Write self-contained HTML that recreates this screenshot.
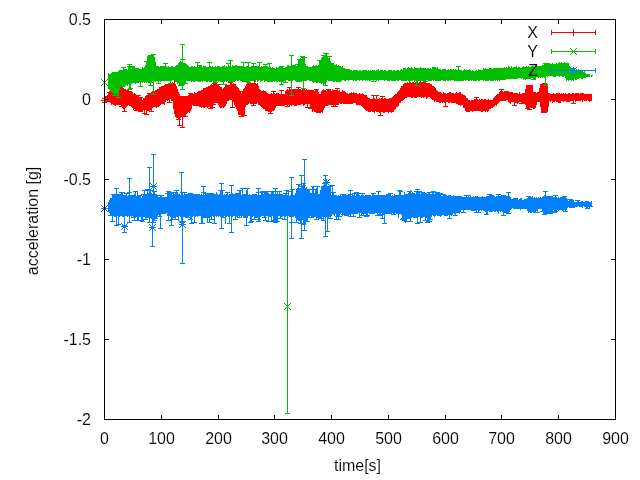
<!DOCTYPE html>
<html><head><meta charset="utf-8"><style>
html,body{margin:0;padding:0;background:#fff;width:640px;height:480px;overflow:hidden}
svg{position:absolute;left:0;top:0}
.tx{will-change:transform}
.t{font-family:"Liberation Sans",sans-serif;font-size:16px;fill:#000;stroke:#fff;stroke-width:0.12px;shape-rendering:auto}
</style></head><body>
<svg width="640" height="480" viewBox="0 0 640 480" shape-rendering="crispEdges">
<g><path fill="#ff0000" d="M105 96h1v6h-1zM106 96h1v6h-1zM107 95h1v7h-1zM108 93h1v9h-1zM109 92h1v10h-1zM109 92h1v1h-1zM107 92h5v1h-5zM110 92h1v11h-1zM111 91h1v14h-1zM111 91h1v1h-1zM109 91h5v1h-5zM112 91h1v13h-1zM113 92h1v13h-1zM114 92h1v13h-1zM115 92h1v14h-1zM116 91h1v14h-1zM116 91h1v1h-1zM114 91h5v1h-5zM117 92h1v13h-1zM118 88h1v17h-1zM119 88h1v17h-1zM119 87h1v2h-1zM117 87h5v1h-5zM120 87h1v18h-1zM121 88h1v19h-1zM121 106h1v1h-1zM119 106h5v1h-5zM122 87h1v21h-1zM123 88h1v21h-1zM124 89h1v19h-1zM124 107h1v5h-1zM122 111h5v1h-5zM125 89h1v19h-1zM126 91h1v16h-1zM126 90h1v2h-1zM124 90h5v1h-5zM127 90h1v16h-1zM128 90h1v15h-1zM129 91h1v15h-1zM130 91h1v15h-1zM131 91h1v16h-1zM132 92h1v16h-1zM133 94h1v16h-1zM134 93h1v16h-1zM135 94h1v16h-1zM136 95h1v15h-1zM136 109h1v2h-1zM134 110h5v1h-5zM137 96h1v14h-1zM137 109h1v2h-1zM135 110h5v1h-5zM138 97h1v13h-1zM138 95h1v3h-1zM136 95h5v1h-5zM139 97h1v13h-1zM140 99h1v11h-1zM141 98h1v13h-1zM142 100h1v11h-1zM143 98h1v12h-1zM143 109h1v1h-1zM141 109h5v1h-5zM144 98h1v12h-1zM144 109h1v5h-1zM142 113h5v1h-5zM145 96h1v14h-1zM146 95h1v17h-1zM146 111h1v4h-1zM144 114h5v1h-5zM147 95h1v16h-1zM148 94h1v17h-1zM149 93h1v18h-1zM149 93h1v1h-1zM147 93h5v1h-5zM150 93h1v17h-1zM151 92h1v16h-1zM151 107h1v5h-1zM149 111h5v1h-5zM152 91h1v17h-1zM153 92h1v15h-1zM154 91h1v16h-1zM155 90h1v17h-1zM156 90h1v18h-1zM157 89h1v18h-1zM158 89h1v18h-1zM159 87h1v19h-1zM160 87h1v18h-1zM161 86h1v18h-1zM162 86h1v18h-1zM163 86h1v18h-1zM163 86h1v1h-1zM161 86h5v1h-5zM164 85h1v20h-1zM165 85h1v17h-1zM166 84h1v16h-1zM167 84h1v17h-1zM167 84h1v1h-1zM165 84h5v1h-5zM168 84h1v16h-1zM169 83h1v17h-1zM169 99h1v4h-1zM167 102h5v1h-5zM170 83h1v16h-1zM171 83h1v18h-1zM172 82h1v19h-1zM173 83h1v26h-1zM174 83h1v31h-1zM174 79h1v5h-1zM172 79h5v1h-5zM175 84h1v33h-1zM176 86h1v32h-1zM177 89h1v29h-1zM178 92h1v27h-1zM179 94h1v25h-1zM180 96h1v22h-1zM181 96h1v21h-1zM181 116h1v1h-1zM179 116h5v1h-5zM182 96h1v22h-1zM183 96h1v21h-1zM184 97h1v19h-1zM185 96h1v17h-1zM186 97h1v17h-1zM187 96h1v17h-1zM188 95h1v17h-1zM189 93h1v20h-1zM190 93h1v18h-1zM190 93h1v1h-1zM188 93h5v1h-5zM191 93h1v16h-1zM192 93h1v12h-1zM193 94h1v12h-1zM194 92h1v13h-1zM195 93h1v12h-1zM196 93h1v12h-1zM196 104h1v2h-1zM194 105h5v1h-5zM197 92h1v13h-1zM198 91h1v15h-1zM199 91h1v16h-1zM200 91h1v16h-1zM201 90h1v18h-1zM202 90h1v17h-1zM203 89h1v19h-1zM204 89h1v19h-1zM205 89h1v18h-1zM205 88h1v2h-1zM203 88h5v1h-5zM206 87h1v20h-1zM207 87h1v21h-1zM208 87h1v20h-1zM209 86h1v21h-1zM210 85h1v23h-1zM211 84h1v23h-1zM212 85h1v22h-1zM212 106h1v2h-1zM210 107h5v1h-5zM213 84h1v21h-1zM213 104h1v1h-1zM211 104h5v1h-5zM214 83h1v20h-1zM214 83h1v1h-1zM212 83h5v1h-5zM215 83h1v20h-1zM216 83h1v20h-1zM217 84h1v19h-1zM218 84h1v21h-1zM218 84h1v1h-1zM216 84h5v1h-5zM219 86h1v21h-1zM220 87h1v21h-1zM221 87h1v21h-1zM222 89h1v18h-1zM223 88h1v20h-1zM224 87h1v20h-1zM225 85h1v21h-1zM226 84h1v20h-1zM227 85h1v16h-1zM228 85h1v16h-1zM229 85h1v15h-1zM230 83h1v17h-1zM230 82h1v2h-1zM228 82h5v1h-5zM231 83h1v17h-1zM232 84h1v16h-1zM233 83h1v19h-1zM234 84h1v21h-1zM235 84h1v23h-1zM236 86h1v23h-1zM237 87h1v24h-1zM238 88h1v27h-1zM239 90h1v25h-1zM240 93h1v22h-1zM240 91h1v3h-1zM238 91h5v1h-5zM241 93h1v23h-1zM241 115h1v2h-1zM239 116h5v1h-5zM242 91h1v24h-1zM243 89h1v27h-1zM244 88h1v24h-1zM244 111h1v5h-1zM242 115h5v1h-5zM245 86h1v21h-1zM246 84h1v21h-1zM247 83h1v22h-1zM248 83h1v21h-1zM249 82h1v21h-1zM250 83h1v21h-1zM251 83h1v21h-1zM252 83h1v21h-1zM253 83h1v21h-1zM253 103h1v3h-1zM251 105h5v1h-5zM254 83h1v21h-1zM254 79h1v5h-1zM252 79h5v1h-5zM255 83h1v21h-1zM256 84h1v20h-1zM257 83h1v20h-1zM258 86h1v19h-1zM259 89h1v16h-1zM260 90h1v16h-1zM261 91h1v16h-1zM262 91h1v17h-1zM263 90h1v19h-1zM264 91h1v18h-1zM265 91h1v20h-1zM266 92h1v19h-1zM267 93h1v18h-1zM268 94h1v18h-1zM269 94h1v18h-1zM270 94h1v18h-1zM270 111h1v3h-1zM268 113h5v1h-5zM271 93h1v19h-1zM272 94h1v17h-1zM273 94h1v17h-1zM273 91h1v4h-1zM271 91h5v1h-5zM274 93h1v17h-1zM275 94h1v14h-1zM276 93h1v13h-1zM276 105h1v1h-1zM274 105h5v1h-5zM277 93h1v12h-1zM277 104h1v2h-1zM275 105h5v1h-5zM278 93h1v13h-1zM279 94h1v12h-1zM280 94h1v12h-1zM281 94h1v12h-1zM281 90h1v5h-1zM279 90h5v1h-5zM282 94h1v12h-1zM283 94h1v12h-1zM284 94h1v12h-1zM285 91h1v14h-1zM286 90h1v15h-1zM287 89h1v16h-1zM287 104h1v3h-1zM285 106h5v1h-5zM288 90h1v15h-1zM289 90h1v16h-1zM289 87h1v4h-1zM287 87h5v1h-5zM290 89h1v16h-1zM291 89h1v17h-1zM292 89h1v16h-1zM293 89h1v16h-1zM294 89h1v17h-1zM295 89h1v17h-1zM296 89h1v17h-1zM297 89h1v16h-1zM298 90h1v15h-1zM298 87h1v4h-1zM296 87h5v1h-5zM299 89h1v16h-1zM300 89h1v16h-1zM301 90h1v14h-1zM302 89h1v15h-1zM303 89h1v17h-1zM304 89h1v16h-1zM305 90h1v14h-1zM306 89h1v15h-1zM307 90h1v15h-1zM307 104h1v4h-1zM305 107h5v1h-5zM308 90h1v14h-1zM309 90h1v14h-1zM310 90h1v16h-1zM310 105h1v4h-1zM308 108h5v1h-5zM311 90h1v19h-1zM312 90h1v22h-1zM313 90h1v21h-1zM314 91h1v21h-1zM315 90h1v22h-1zM316 90h1v22h-1zM316 89h1v2h-1zM314 89h5v1h-5zM317 90h1v22h-1zM318 92h1v20h-1zM318 111h1v2h-1zM316 112h5v1h-5zM319 94h1v18h-1zM320 94h1v18h-1zM321 91h1v21h-1zM322 90h1v23h-1zM323 89h1v21h-1zM324 90h1v18h-1zM325 90h1v16h-1zM326 91h1v15h-1zM327 90h1v16h-1zM328 90h1v15h-1zM328 89h1v2h-1zM326 89h5v1h-5zM329 90h1v15h-1zM330 90h1v15h-1zM331 91h1v14h-1zM332 89h1v16h-1zM333 90h1v15h-1zM333 104h1v3h-1zM331 106h5v1h-5zM334 90h1v15h-1zM335 90h1v15h-1zM335 104h1v3h-1zM333 106h5v1h-5zM336 90h1v15h-1zM337 90h1v15h-1zM337 88h1v3h-1zM335 88h5v1h-5zM338 91h1v14h-1zM339 90h1v13h-1zM340 92h1v12h-1zM341 92h1v12h-1zM342 90h1v13h-1zM343 91h1v13h-1zM344 91h1v13h-1zM345 92h1v12h-1zM346 93h1v11h-1zM347 93h1v11h-1zM348 94h1v10h-1zM349 93h1v11h-1zM350 93h1v11h-1zM351 92h1v12h-1zM352 93h1v11h-1zM353 92h1v11h-1zM354 93h1v10h-1zM355 93h1v10h-1zM356 93h1v11h-1zM357 94h1v10h-1zM358 94h1v10h-1zM358 103h1v2h-1zM356 104h5v1h-5zM359 93h1v11h-1zM359 103h1v2h-1zM357 104h5v1h-5zM360 94h1v10h-1zM361 94h1v12h-1zM362 93h1v14h-1zM363 94h1v14h-1zM364 95h1v14h-1zM365 95h1v15h-1zM366 95h1v16h-1zM367 97h1v14h-1zM368 98h1v14h-1zM369 98h1v14h-1zM370 99h1v13h-1zM371 99h1v12h-1zM372 99h1v13h-1zM373 99h1v13h-1zM373 95h1v5h-1zM371 95h5v1h-5zM374 98h1v15h-1zM375 99h1v12h-1zM376 99h1v13h-1zM376 95h1v5h-1zM374 95h5v1h-5zM377 99h1v13h-1zM378 99h1v13h-1zM379 98h1v15h-1zM380 99h1v14h-1zM380 112h1v4h-1zM378 115h5v1h-5zM381 98h1v14h-1zM382 98h1v14h-1zM382 96h1v3h-1zM380 96h5v1h-5zM383 99h1v14h-1zM384 98h1v15h-1zM385 98h1v14h-1zM386 99h1v13h-1zM387 99h1v13h-1zM388 99h1v14h-1zM389 98h1v14h-1zM390 98h1v14h-1zM391 98h1v15h-1zM392 97h1v15h-1zM393 96h1v16h-1zM394 95h1v15h-1zM395 94h1v15h-1zM396 94h1v13h-1zM397 92h1v15h-1zM398 91h1v15h-1zM399 90h1v13h-1zM400 88h1v15h-1zM401 86h1v15h-1zM402 86h1v15h-1zM403 84h1v16h-1zM404 83h1v16h-1zM405 83h1v15h-1zM406 83h1v15h-1zM407 82h1v15h-1zM408 83h1v14h-1zM409 82h1v15h-1zM410 82h1v15h-1zM411 83h1v15h-1zM412 82h1v16h-1zM413 82h1v15h-1zM414 83h1v15h-1zM415 82h1v16h-1zM416 83h1v15h-1zM417 82h1v15h-1zM418 83h1v14h-1zM419 82h1v15h-1zM420 81h1v16h-1zM421 82h1v16h-1zM422 82h1v15h-1zM423 82h1v16h-1zM424 82h1v15h-1zM425 81h1v16h-1zM426 83h1v16h-1zM427 83h1v15h-1zM428 83h1v14h-1zM429 83h1v14h-1zM430 84h1v14h-1zM431 84h1v15h-1zM432 86h1v14h-1zM433 86h1v14h-1zM434 87h1v15h-1zM435 88h1v13h-1zM436 90h1v12h-1zM437 91h1v11h-1zM438 92h1v10h-1zM439 92h1v11h-1zM440 92h1v11h-1zM441 93h1v9h-1zM442 94h1v9h-1zM443 92h1v10h-1zM444 93h1v10h-1zM445 93h1v10h-1zM445 102h1v5h-1zM443 106h5v1h-5zM446 94h1v8h-1zM447 93h1v9h-1zM448 93h1v10h-1zM449 92h1v11h-1zM450 92h1v10h-1zM451 93h1v10h-1zM452 93h1v10h-1zM453 93h1v10h-1zM454 94h1v9h-1zM455 93h1v10h-1zM456 92h1v12h-1zM457 93h1v11h-1zM458 93h1v12h-1zM459 92h1v13h-1zM460 92h1v14h-1zM461 94h1v11h-1zM462 94h1v11h-1zM463 95h1v13h-1zM464 95h1v13h-1zM465 96h1v15h-1zM466 98h1v14h-1zM467 98h1v14h-1zM468 100h1v12h-1zM469 100h1v12h-1zM470 101h1v10h-1zM471 100h1v11h-1zM472 100h1v12h-1zM473 100h1v11h-1zM474 99h1v12h-1zM475 99h1v12h-1zM476 99h1v12h-1zM476 97h1v3h-1zM474 97h5v1h-5zM477 99h1v12h-1zM478 100h1v11h-1zM479 99h1v12h-1zM480 100h1v11h-1zM481 99h1v13h-1zM482 99h1v13h-1zM483 100h1v11h-1zM484 99h1v12h-1zM485 99h1v13h-1zM486 100h1v11h-1zM487 100h1v12h-1zM488 99h1v12h-1zM489 100h1v9h-1zM490 100h1v9h-1zM491 100h1v8h-1zM492 100h1v8h-1zM493 98h1v9h-1zM494 97h1v9h-1zM495 96h1v9h-1zM496 95h1v11h-1zM497 94h1v10h-1zM498 94h1v9h-1zM499 92h1v10h-1zM500 91h1v10h-1zM501 92h1v9h-1zM501 89h1v4h-1zM499 89h5v1h-5zM502 91h1v10h-1zM503 92h1v9h-1zM504 91h1v10h-1zM505 91h1v10h-1zM506 91h1v9h-1zM507 91h1v9h-1zM508 91h1v11h-1zM509 92h1v11h-1zM510 92h1v12h-1zM511 92h1v10h-1zM512 92h1v10h-1zM513 93h1v9h-1zM514 93h1v10h-1zM514 102h1v4h-1zM512 105h5v1h-5zM515 93h1v10h-1zM516 93h1v10h-1zM517 93h1v11h-1zM518 94h1v9h-1zM519 92h1v10h-1zM520 94h1v8h-1zM521 94h1v9h-1zM521 102h1v2h-1zM519 103h5v1h-5zM522 93h1v10h-1zM523 93h1v11h-1zM524 93h1v11h-1zM525 89h1v16h-1zM526 85h1v23h-1zM527 85h1v24h-1zM527 108h1v1h-1zM525 108h5v1h-5zM528 86h1v23h-1zM529 85h1v23h-1zM530 86h1v22h-1zM531 86h1v22h-1zM532 85h1v23h-1zM533 92h1v17h-1zM534 92h1v17h-1zM535 92h1v16h-1zM536 93h1v12h-1zM537 92h1v10h-1zM538 92h1v10h-1zM539 88h1v14h-1zM540 84h1v23h-1zM541 84h1v29h-1zM542 84h1v28h-1zM543 83h1v29h-1zM544 84h1v29h-1zM545 83h1v30h-1zM546 84h1v28h-1zM547 84h1v28h-1zM548 93h1v14h-1zM549 93h1v8h-1zM550 94h1v8h-1zM551 94h1v7h-1zM552 94h1v9h-1zM553 93h1v9h-1zM554 94h1v8h-1zM555 94h1v7h-1zM556 93h1v9h-1zM557 93h1v9h-1zM558 93h1v10h-1zM559 93h1v10h-1zM560 94h1v9h-1zM561 93h1v8h-1zM562 94h1v7h-1zM563 93h1v9h-1zM564 94h1v7h-1zM565 93h1v8h-1zM566 94h1v8h-1zM567 94h1v8h-1zM568 93h1v9h-1zM569 93h1v9h-1zM570 94h1v7h-1zM571 94h1v7h-1zM572 93h1v8h-1zM573 93h1v8h-1zM573 100h1v4h-1zM571 103h5v1h-5zM574 94h1v6h-1zM575 93h1v9h-1zM576 93h1v8h-1zM577 93h1v8h-1zM578 93h1v8h-1zM579 94h1v7h-1zM580 93h1v8h-1zM581 93h1v7h-1zM582 93h1v9h-1zM583 93h1v7h-1zM584 94h1v7h-1zM585 94h1v7h-1zM586 94h1v7h-1zM587 94h1v6h-1zM588 94h1v7h-1zM589 94h1v8h-1zM590 94h1v7h-1zM591 94h1v7h-1z"/>
<path fill="#ff0000" d="M178 96h1v24h-1zM176 96h5v1h-5zM176 119h5v1h-5zM179 96h1v30h-1zM177 96h5v1h-5zM177 125h5v1h-5zM182 96h1v32h-1zM180 96h5v1h-5zM180 127h5v1h-5zM185 96h1v21h-1zM183 96h5v1h-5zM183 116h5v1h-5zM544 83h1v30h-1zM542 83h5v1h-5zM542 112h5v1h-5zM529 85h1v25h-1zM527 85h5v1h-5zM527 109h5v1h-5zM232 84h1v24h-1zM230 84h5v1h-5zM230 107h5v1h-5zM210 86h1v23h-1zM208 86h5v1h-5zM208 108h5v1h-5zM140 97h1v15h-1zM138 97h5v1h-5zM138 111h5v1h-5zM104 98h1v5h-1zM102 98h5v1h-5zM102 102h5v1h-5zM101 100h7v1h-7zM104 97h1v7h-1z"/>
<path fill="#00c000" d="M108 73h1v16h-1zM109 74h1v16h-1zM110 74h1v17h-1zM111 73h1v19h-1zM112 73h1v20h-1zM113 72h1v22h-1zM114 73h1v21h-1zM115 73h1v22h-1zM115 94h1v2h-1zM113 95h5v1h-5zM116 73h1v21h-1zM117 72h1v23h-1zM118 71h1v24h-1zM118 94h1v4h-1zM116 97h5v1h-5zM119 70h1v20h-1zM120 70h1v17h-1zM121 70h1v17h-1zM122 70h1v18h-1zM123 69h1v18h-1zM123 67h1v3h-1zM121 67h5v1h-5zM124 69h1v18h-1zM125 69h1v17h-1zM126 69h1v16h-1zM127 70h1v16h-1zM128 68h1v16h-1zM129 68h1v16h-1zM129 66h1v3h-1zM127 66h5v1h-5zM130 69h1v16h-1zM130 67h1v3h-1zM128 67h5v1h-5zM130 84h1v5h-1zM128 88h5v1h-5zM131 69h1v15h-1zM132 68h1v15h-1zM132 66h1v3h-1zM130 66h5v1h-5zM133 67h1v16h-1zM134 67h1v16h-1zM135 68h1v16h-1zM136 68h1v15h-1zM137 68h1v15h-1zM138 68h1v15h-1zM139 69h1v13h-1zM140 69h1v14h-1zM140 82h1v5h-1zM138 86h5v1h-5zM141 69h1v13h-1zM142 67h1v16h-1zM143 68h1v14h-1zM144 67h1v16h-1zM145 65h1v17h-1zM146 62h1v21h-1zM146 61h1v2h-1zM144 61h5v1h-5zM147 56h1v26h-1zM148 56h1v26h-1zM149 56h1v27h-1zM150 57h1v26h-1zM150 82h1v4h-1zM148 85h5v1h-5zM151 56h1v27h-1zM152 56h1v25h-1zM153 57h1v24h-1zM154 57h1v24h-1zM155 62h1v20h-1zM156 66h1v15h-1zM157 66h1v15h-1zM158 66h1v16h-1zM158 81h1v3h-1zM156 83h5v1h-5zM159 67h1v14h-1zM160 66h1v16h-1zM161 66h1v15h-1zM162 66h1v15h-1zM163 66h1v15h-1zM164 66h1v15h-1zM165 67h1v14h-1zM165 63h1v5h-1zM163 63h5v1h-5zM166 66h1v15h-1zM167 67h1v14h-1zM168 66h1v15h-1zM169 67h1v14h-1zM170 67h1v14h-1zM170 80h1v4h-1zM168 83h5v1h-5zM171 66h1v15h-1zM172 66h1v14h-1zM173 67h1v13h-1zM174 67h1v13h-1zM175 66h1v16h-1zM176 65h1v17h-1zM177 65h1v19h-1zM178 63h1v20h-1zM179 62h1v23h-1zM180 61h1v23h-1zM180 83h1v3h-1zM178 85h5v1h-5zM181 62h1v24h-1zM182 62h1v24h-1zM182 59h1v4h-1zM180 59h5v1h-5zM183 63h1v23h-1zM184 63h1v22h-1zM185 63h1v20h-1zM185 82h1v2h-1zM183 83h5v1h-5zM186 64h1v17h-1zM187 65h1v16h-1zM188 66h1v15h-1zM189 67h1v14h-1zM190 67h1v14h-1zM191 66h1v16h-1zM192 66h1v15h-1zM193 67h1v15h-1zM194 66h1v16h-1zM195 67h1v14h-1zM196 67h1v14h-1zM197 66h1v15h-1zM197 62h1v5h-1zM195 62h5v1h-5zM198 67h1v15h-1zM199 67h1v15h-1zM199 65h1v3h-1zM197 65h5v1h-5zM200 66h1v16h-1zM201 66h1v15h-1zM202 67h1v15h-1zM203 66h1v15h-1zM204 66h1v15h-1zM205 66h1v15h-1zM206 67h1v15h-1zM207 67h1v15h-1zM208 67h1v14h-1zM209 66h1v16h-1zM209 62h1v5h-1zM207 62h5v1h-5zM210 66h1v16h-1zM211 67h1v15h-1zM212 66h1v15h-1zM213 67h1v15h-1zM214 67h1v15h-1zM215 66h1v15h-1zM215 80h1v3h-1zM213 82h5v1h-5zM216 67h1v15h-1zM217 66h1v15h-1zM218 66h1v16h-1zM219 66h1v15h-1zM220 67h1v15h-1zM221 67h1v15h-1zM222 66h1v16h-1zM223 66h1v15h-1zM223 80h1v5h-1zM221 84h5v1h-5zM224 65h1v17h-1zM225 67h1v14h-1zM226 66h1v16h-1zM227 67h1v14h-1zM228 66h1v16h-1zM228 63h1v4h-1zM226 63h5v1h-5zM229 66h1v16h-1zM230 67h1v15h-1zM231 67h1v14h-1zM232 65h1v16h-1zM233 66h1v16h-1zM234 66h1v16h-1zM235 65h1v16h-1zM236 65h1v15h-1zM237 66h1v15h-1zM238 67h1v14h-1zM239 66h1v14h-1zM240 66h1v15h-1zM240 66h1v1h-1zM238 66h5v1h-5zM241 67h1v14h-1zM242 67h1v15h-1zM243 66h1v15h-1zM243 62h1v5h-1zM241 62h5v1h-5zM244 67h1v15h-1zM244 81h1v1h-1zM242 81h5v1h-5zM245 67h1v14h-1zM246 66h1v15h-1zM247 66h1v16h-1zM248 67h1v14h-1zM249 67h1v15h-1zM250 67h1v14h-1zM251 66h1v15h-1zM252 66h1v15h-1zM253 66h1v15h-1zM253 63h1v4h-1zM251 63h5v1h-5zM254 66h1v14h-1zM255 66h1v16h-1zM256 66h1v14h-1zM257 66h1v16h-1zM258 66h1v15h-1zM259 66h1v14h-1zM259 62h1v5h-1zM257 62h5v1h-5zM260 67h1v15h-1zM261 66h1v15h-1zM262 67h1v14h-1zM263 66h1v14h-1zM264 66h1v16h-1zM265 66h1v15h-1zM265 64h1v3h-1zM263 64h5v1h-5zM266 66h1v15h-1zM267 66h1v15h-1zM268 67h1v14h-1zM269 68h1v13h-1zM269 80h1v1h-1zM267 80h5v1h-5zM270 67h1v14h-1zM270 80h1v1h-1zM268 80h5v1h-5zM271 68h1v13h-1zM272 67h1v15h-1zM273 68h1v13h-1zM274 68h1v14h-1zM275 69h1v12h-1zM276 67h1v15h-1zM277 68h1v14h-1zM278 67h1v14h-1zM279 68h1v14h-1zM280 67h1v15h-1zM280 67h1v1h-1zM278 67h5v1h-5zM281 68h1v15h-1zM281 66h1v3h-1zM279 66h5v1h-5zM281 82h1v3h-1zM279 84h5v1h-5zM282 68h1v14h-1zM283 68h1v14h-1zM284 68h1v13h-1zM285 67h1v15h-1zM285 81h1v2h-1zM283 82h5v1h-5zM286 67h1v13h-1zM287 65h1v15h-1zM288 65h1v16h-1zM289 66h1v15h-1zM290 66h1v15h-1zM291 66h1v15h-1zM292 66h1v15h-1zM293 65h1v15h-1zM293 65h1v1h-1zM291 65h5v1h-5zM294 66h1v14h-1zM295 66h1v15h-1zM296 66h1v15h-1zM297 65h1v16h-1zM297 64h1v2h-1zM295 64h5v1h-5zM298 60h1v20h-1zM298 79h1v3h-1zM296 81h5v1h-5zM299 59h1v22h-1zM299 59h1v1h-1zM297 59h5v1h-5zM299 80h1v2h-1zM297 81h5v1h-5zM300 58h1v23h-1zM301 59h1v22h-1zM302 57h1v24h-1zM302 56h1v2h-1zM300 56h5v1h-5zM303 58h1v22h-1zM304 58h1v23h-1zM304 57h1v2h-1zM302 57h5v1h-5zM305 64h1v17h-1zM306 66h1v15h-1zM307 66h1v14h-1zM308 67h1v13h-1zM309 68h1v13h-1zM310 67h1v14h-1zM311 67h1v14h-1zM311 67h1v1h-1zM309 67h5v1h-5zM312 66h1v16h-1zM313 65h1v18h-1zM314 66h1v16h-1zM315 66h1v16h-1zM316 65h1v18h-1zM317 66h1v17h-1zM318 65h1v17h-1zM319 64h1v19h-1zM319 60h1v5h-1zM317 60h5v1h-5zM320 61h1v22h-1zM321 58h1v26h-1zM322 57h1v26h-1zM323 56h1v29h-1zM323 55h1v2h-1zM321 55h5v1h-5zM324 56h1v28h-1zM325 56h1v28h-1zM325 83h1v3h-1zM323 85h5v1h-5zM326 56h1v26h-1zM326 53h1v4h-1zM324 53h5v1h-5zM327 57h1v23h-1zM328 58h1v23h-1zM329 60h1v21h-1zM329 56h1v5h-1zM327 56h5v1h-5zM330 61h1v20h-1zM331 63h1v18h-1zM332 63h1v18h-1zM333 63h1v19h-1zM334 65h1v17h-1zM335 65h1v16h-1zM336 64h1v17h-1zM337 66h1v15h-1zM338 65h1v17h-1zM338 81h1v1h-1zM336 81h5v1h-5zM339 66h1v16h-1zM340 66h1v16h-1zM341 67h1v14h-1zM342 66h1v14h-1zM343 68h1v12h-1zM344 68h1v13h-1zM345 69h1v12h-1zM346 69h1v11h-1zM347 69h1v11h-1zM347 69h1v1h-1zM345 69h5v1h-5zM348 70h1v11h-1zM349 69h1v11h-1zM350 70h1v10h-1zM351 70h1v10h-1zM352 71h1v9h-1zM353 70h1v11h-1zM354 70h1v10h-1zM355 70h1v11h-1zM356 70h1v11h-1zM357 70h1v10h-1zM358 71h1v9h-1zM359 70h1v11h-1zM360 70h1v10h-1zM361 71h1v9h-1zM362 70h1v11h-1zM363 70h1v10h-1zM364 70h1v10h-1zM365 70h1v11h-1zM366 70h1v10h-1zM367 71h1v10h-1zM368 70h1v10h-1zM369 71h1v10h-1zM370 70h1v11h-1zM371 71h1v9h-1zM372 70h1v10h-1zM373 70h1v11h-1zM373 80h1v2h-1zM371 81h5v1h-5zM374 70h1v10h-1zM375 71h1v9h-1zM376 70h1v11h-1zM377 70h1v10h-1zM378 69h1v12h-1zM379 71h1v9h-1zM380 70h1v10h-1zM381 70h1v10h-1zM382 70h1v10h-1zM383 71h1v9h-1zM384 70h1v11h-1zM385 70h1v10h-1zM386 71h1v9h-1zM387 71h1v10h-1zM388 70h1v11h-1zM389 70h1v11h-1zM390 70h1v10h-1zM391 70h1v11h-1zM392 71h1v10h-1zM393 70h1v11h-1zM394 70h1v11h-1zM395 71h1v10h-1zM396 70h1v10h-1zM397 70h1v11h-1zM398 70h1v11h-1zM399 71h1v9h-1zM400 70h1v10h-1zM401 69h1v12h-1zM402 70h1v11h-1zM403 68h1v13h-1zM404 68h1v13h-1zM405 68h1v13h-1zM406 69h1v12h-1zM407 68h1v12h-1zM408 67h1v14h-1zM409 68h1v14h-1zM410 68h1v13h-1zM411 67h1v14h-1zM412 68h1v13h-1zM413 69h1v11h-1zM414 67h1v15h-1zM415 68h1v13h-1zM416 68h1v14h-1zM416 81h1v5h-1zM414 85h5v1h-5zM417 68h1v14h-1zM418 68h1v13h-1zM419 68h1v13h-1zM420 67h1v14h-1zM421 68h1v13h-1zM422 68h1v13h-1zM423 68h1v13h-1zM424 68h1v13h-1zM425 68h1v13h-1zM425 80h1v2h-1zM423 81h5v1h-5zM426 69h1v11h-1zM427 68h1v12h-1zM428 68h1v13h-1zM429 69h1v12h-1zM430 68h1v13h-1zM431 69h1v12h-1zM432 67h1v13h-1zM433 67h1v14h-1zM434 67h1v13h-1zM435 67h1v14h-1zM436 68h1v13h-1zM437 67h1v14h-1zM438 69h1v12h-1zM439 69h1v12h-1zM440 69h1v12h-1zM441 70h1v10h-1zM442 69h1v11h-1zM443 69h1v12h-1zM444 69h1v12h-1zM445 69h1v12h-1zM446 70h1v10h-1zM447 70h1v11h-1zM448 69h1v12h-1zM449 70h1v10h-1zM450 69h1v12h-1zM451 69h1v11h-1zM452 70h1v10h-1zM453 69h1v11h-1zM454 70h1v11h-1zM455 69h1v12h-1zM456 70h1v11h-1zM457 70h1v11h-1zM458 70h1v10h-1zM458 66h1v5h-1zM456 66h5v1h-5zM459 70h1v10h-1zM460 70h1v10h-1zM460 79h1v2h-1zM458 80h5v1h-5zM461 70h1v10h-1zM462 71h1v9h-1zM463 70h1v11h-1zM464 69h1v11h-1zM465 70h1v11h-1zM466 70h1v10h-1zM467 70h1v10h-1zM468 70h1v11h-1zM469 69h1v12h-1zM470 70h1v10h-1zM471 71h1v10h-1zM472 70h1v10h-1zM473 71h1v10h-1zM474 71h1v10h-1zM475 71h1v10h-1zM476 70h1v11h-1zM477 71h1v9h-1zM478 69h1v12h-1zM479 70h1v11h-1zM480 70h1v10h-1zM481 70h1v10h-1zM482 70h1v10h-1zM483 68h1v13h-1zM484 69h1v11h-1zM485 68h1v13h-1zM486 69h1v12h-1zM487 69h1v12h-1zM488 69h1v12h-1zM489 68h1v12h-1zM490 68h1v13h-1zM491 68h1v13h-1zM492 69h1v12h-1zM493 68h1v13h-1zM494 68h1v12h-1zM495 68h1v13h-1zM496 68h1v12h-1zM497 68h1v13h-1zM498 68h1v12h-1zM499 68h1v13h-1zM500 68h1v12h-1zM501 68h1v12h-1zM502 68h1v12h-1zM503 68h1v12h-1zM504 67h1v13h-1zM505 68h1v12h-1zM506 67h1v12h-1zM507 68h1v11h-1zM508 66h1v13h-1zM509 67h1v12h-1zM510 68h1v11h-1zM511 66h1v13h-1zM512 68h1v11h-1zM513 67h1v12h-1zM514 67h1v12h-1zM515 67h1v12h-1zM516 66h1v13h-1zM517 68h1v11h-1zM518 67h1v11h-1zM519 67h1v11h-1zM520 68h1v10h-1zM521 68h1v11h-1zM522 67h1v11h-1zM523 66h1v14h-1zM524 67h1v12h-1zM525 67h1v13h-1zM526 66h1v13h-1zM527 67h1v12h-1zM528 66h1v13h-1zM529 67h1v12h-1zM530 67h1v12h-1zM531 66h1v12h-1zM532 66h1v12h-1zM533 66h1v12h-1zM533 77h1v3h-1zM531 79h5v1h-5zM534 67h1v12h-1zM535 66h1v13h-1zM536 66h1v11h-1zM537 66h1v11h-1zM538 66h1v12h-1zM539 66h1v11h-1zM540 66h1v12h-1zM541 66h1v11h-1zM542 65h1v13h-1zM543 65h1v12h-1zM544 64h1v14h-1zM545 63h1v14h-1zM546 64h1v12h-1zM547 63h1v14h-1zM548 63h1v13h-1zM549 63h1v13h-1zM550 64h1v12h-1zM551 64h1v12h-1zM552 63h1v13h-1zM553 64h1v13h-1zM554 64h1v13h-1zM555 64h1v13h-1zM556 63h1v13h-1zM557 64h1v12h-1zM558 63h1v13h-1zM559 62h1v15h-1zM560 63h1v13h-1zM561 62h1v14h-1zM562 63h1v14h-1zM563 63h1v14h-1zM564 62h1v14h-1zM565 63h1v15h-1zM566 63h1v18h-1zM567 63h1v17h-1zM568 63h1v18h-1zM569 66h1v14h-1zM570 68h1v12h-1zM571 69h1v12h-1zM572 68h1v12h-1zM573 68h1v13h-1zM574 68h1v11h-1zM575 70h1v10h-1zM576 69h1v11h-1zM577 70h1v9h-1zM578 69h1v10h-1zM579 70h1v8h-1zM580 70h1v8h-1zM581 70h1v9h-1zM582 71h1v8h-1zM583 72h1v6h-1zM584 71h1v7h-1zM585 73h1v5h-1zM586 74h1v3h-1zM587 74h1v3h-1zM588 74h1v3h-1zM589 74h1v3h-1zM591 75h1v2h-1zM592 75h1v1h-1z"/>
<path fill="#00c000" d="M114 72h1v24h-1zM112 72h5v1h-5zM112 95h5v1h-5zM129 64h1v26h-1zM127 64h5v1h-5zM127 89h5v1h-5zM153 54h1v41h-1zM151 54h5v1h-5zM151 94h5v1h-5zM150 55h1v28h-1zM148 55h5v1h-5zM148 82h5v1h-5zM182 44h1v46h-1zM180 44h5v1h-5zM180 89h5v1h-5zM230 60h1v22h-1zM228 60h5v1h-5zM228 81h5v1h-5zM248 62h1v21h-1zM246 62h5v1h-5zM246 82h5v1h-5zM269 63h1v19h-1zM267 63h5v1h-5zM267 81h5v1h-5zM291 55h1v41h-1zM289 55h5v1h-5zM289 95h5v1h-5zM303 57h1v32h-1zM301 57h5v1h-5zM301 88h5v1h-5zM325 53h1v33h-1zM323 53h5v1h-5zM323 85h5v1h-5zM545 63h1v23h-1zM543 63h5v1h-5zM543 85h5v1h-5zM287 201h1v213h-1zM285 201h5v1h-5zM285 413h5v1h-5z"/>
<path stroke="#00c000" fill="none" shape-rendering="crispEdges" d="M284 303L291 310M291 303L284 310"/>
<path stroke="#00c000" fill="none" shape-rendering="crispEdges" d="M101 79L108 86M108 79L101 86"/>
<path fill="#0080ff" d="M108 202h1v10h-1zM109 200h1v13h-1zM110 198h1v16h-1zM110 214h1v2h-1zM108 215h5v1h-5zM111 198h1v17h-1zM112 196h1v20h-1zM112 216h1v6h-1zM110 221h5v1h-5zM113 196h1v20h-1zM113 194h1v2h-1zM111 194h5v1h-5zM114 195h1v22h-1zM112 195h5v1h-5zM115 195h1v22h-1zM115 194h1v1h-1zM113 194h5v1h-5zM116 195h1v21h-1zM116 216h1v7h-1zM117 195h1v21h-1zM118 196h1v21h-1zM118 194h1v2h-1zM116 194h5v1h-5zM118 217h1v8h-1zM116 224h5v1h-5zM119 195h1v22h-1zM120 195h1v21h-1zM121 195h1v21h-1zM121 192h1v3h-1zM119 192h5v1h-5zM122 195h1v22h-1zM122 192h1v3h-1zM120 192h5v1h-5zM123 195h1v22h-1zM124 196h1v21h-1zM124 217h1v9h-1zM122 225h5v1h-5zM125 195h1v21h-1zM126 195h1v21h-1zM126 193h1v2h-1zM124 193h5v1h-5zM127 196h1v21h-1zM128 196h1v20h-1zM129 195h1v22h-1zM129 192h1v3h-1zM127 192h5v1h-5zM130 195h1v21h-1zM128 195h5v1h-5zM131 195h1v22h-1zM132 195h1v21h-1zM133 195h1v21h-1zM133 216h1v2h-1zM131 217h5v1h-5zM134 194h1v22h-1zM134 216h1v5h-1zM132 220h5v1h-5zM135 195h1v22h-1zM135 191h1v4h-1zM133 191h5v1h-5zM136 196h1v21h-1zM134 196h5v1h-5zM137 195h1v22h-1zM137 192h1v3h-1zM137 217h1v4h-1zM135 220h5v1h-5zM138 195h1v22h-1zM138 217h1v4h-1zM139 195h1v22h-1zM137 195h5v1h-5zM140 196h1v21h-1zM141 198h1v18h-1zM141 216h1v5h-1zM139 220h5v1h-5zM142 196h1v20h-1zM142 216h1v6h-1zM140 221h5v1h-5zM143 195h1v22h-1zM143 194h1v1h-1zM141 194h5v1h-5zM144 194h1v23h-1zM144 190h1v4h-1zM142 190h5v1h-5zM145 194h1v23h-1zM145 217h1v3h-1zM143 219h5v1h-5zM146 194h1v24h-1zM147 193h1v25h-1zM147 189h1v4h-1zM145 189h5v1h-5zM148 193h1v25h-1zM149 193h1v25h-1zM150 193h1v25h-1zM150 190h1v3h-1zM148 190h5v1h-5zM151 193h1v26h-1zM152 194h1v24h-1zM153 194h1v24h-1zM153 193h1v1h-1zM154 194h1v24h-1zM154 191h1v3h-1zM152 191h5v1h-5zM154 218h1v3h-1zM152 220h5v1h-5zM155 194h1v24h-1zM155 218h1v1h-1zM153 218h5v1h-5zM156 194h1v24h-1zM157 195h1v21h-1zM158 197h1v17h-1zM158 214h1v1h-1zM156 214h5v1h-5zM159 197h1v17h-1zM159 214h1v3h-1zM157 216h5v1h-5zM160 198h1v16h-1zM160 195h1v3h-1zM158 195h5v1h-5zM161 198h1v16h-1zM161 195h1v3h-1zM159 195h5v1h-5zM162 198h1v16h-1zM163 198h1v16h-1zM163 197h1v1h-1zM161 197h5v1h-5zM164 198h1v16h-1zM165 198h1v16h-1zM166 197h1v16h-1zM167 195h1v21h-1zM167 193h1v2h-1zM165 193h5v1h-5zM168 195h1v21h-1zM168 191h1v4h-1zM166 191h5v1h-5zM168 216h1v5h-1zM166 220h5v1h-5zM169 194h1v22h-1zM169 192h1v2h-1zM167 192h5v1h-5zM170 194h1v23h-1zM171 194h1v23h-1zM171 193h1v1h-1zM169 193h5v1h-5zM172 195h1v22h-1zM172 217h1v3h-1zM170 219h5v1h-5zM173 193h1v23h-1zM173 192h1v1h-1zM171 192h5v1h-5zM173 216h1v2h-1zM171 217h5v1h-5zM174 194h1v22h-1zM174 216h1v1h-1zM175 193h1v24h-1zM175 192h1v1h-1zM173 192h5v1h-5zM175 217h1v3h-1zM173 219h5v1h-5zM176 194h1v23h-1zM176 190h1v4h-1zM174 190h5v1h-5zM177 193h1v24h-1zM178 194h1v23h-1zM178 217h1v4h-1zM179 194h1v22h-1zM180 195h1v22h-1zM181 194h1v23h-1zM182 194h1v23h-1zM182 192h1v2h-1zM180 192h5v1h-5zM182 217h1v5h-1zM180 221h5v1h-5zM183 195h1v22h-1zM184 194h1v23h-1zM184 192h1v2h-1zM182 192h5v1h-5zM185 194h1v22h-1zM185 216h1v2h-1zM186 194h1v23h-1zM187 194h1v22h-1zM187 216h1v2h-1zM185 217h5v1h-5zM188 193h1v24h-1zM189 194h1v22h-1zM190 194h1v22h-1zM190 193h1v1h-1zM188 193h5v1h-5zM190 216h1v4h-1zM188 219h5v1h-5zM191 194h1v23h-1zM191 217h1v7h-1zM189 223h5v1h-5zM192 194h1v23h-1zM193 194h1v22h-1zM194 194h1v23h-1zM194 217h1v6h-1zM192 222h5v1h-5zM195 194h1v23h-1zM196 194h1v22h-1zM197 194h1v23h-1zM198 194h1v22h-1zM199 194h1v22h-1zM200 195h1v21h-1zM201 194h1v22h-1zM201 216h1v8h-1zM199 223h5v1h-5zM202 195h1v22h-1zM202 217h1v7h-1zM200 223h5v1h-5zM203 193h1v24h-1zM203 192h1v1h-1zM201 192h5v1h-5zM204 195h1v21h-1zM204 216h1v2h-1zM202 217h5v1h-5zM205 194h1v23h-1zM205 193h1v1h-1zM203 193h5v1h-5zM206 194h1v23h-1zM206 217h1v1h-1zM204 217h5v1h-5zM207 193h1v23h-1zM205 193h5v1h-5zM207 216h1v6h-1zM208 194h1v23h-1zM208 193h1v1h-1zM206 193h5v1h-5zM209 194h1v23h-1zM209 217h1v6h-1zM207 222h5v1h-5zM210 194h1v23h-1zM211 194h1v23h-1zM211 193h1v1h-1zM209 193h5v1h-5zM211 217h1v3h-1zM209 219h5v1h-5zM212 194h1v22h-1zM213 194h1v23h-1zM214 194h1v22h-1zM214 216h1v8h-1zM212 223h5v1h-5zM215 194h1v22h-1zM216 195h1v22h-1zM216 192h1v3h-1zM217 194h1v22h-1zM218 195h1v22h-1zM219 194h1v22h-1zM220 194h1v23h-1zM220 190h1v4h-1zM218 190h5v1h-5zM221 193h1v24h-1zM222 194h1v23h-1zM222 190h1v4h-1zM220 190h5v1h-5zM223 195h1v22h-1zM223 217h1v1h-1zM221 217h5v1h-5zM224 194h1v22h-1zM225 195h1v21h-1zM225 216h1v8h-1zM226 194h1v23h-1zM227 194h1v22h-1zM227 192h1v2h-1zM225 192h5v1h-5zM228 195h1v22h-1zM229 194h1v23h-1zM229 217h1v7h-1zM227 223h5v1h-5zM230 194h1v22h-1zM231 194h1v23h-1zM231 189h1v5h-1zM231 217h1v2h-1zM232 193h1v24h-1zM233 194h1v22h-1zM234 194h1v22h-1zM232 194h5v1h-5zM235 195h1v22h-1zM235 217h1v3h-1zM233 219h5v1h-5zM236 194h1v23h-1zM234 194h5v1h-5zM237 194h1v23h-1zM237 193h1v1h-1zM235 193h5v1h-5zM238 195h1v21h-1zM239 193h1v24h-1zM239 190h1v3h-1zM237 190h5v1h-5zM239 217h1v1h-1zM237 217h5v1h-5zM240 194h1v22h-1zM240 190h1v4h-1zM238 190h5v1h-5zM241 195h1v22h-1zM242 194h1v22h-1zM242 188h1v6h-1zM240 188h5v1h-5zM243 194h1v23h-1zM244 194h1v23h-1zM245 194h1v23h-1zM245 217h1v1h-1zM243 217h5v1h-5zM246 195h1v21h-1zM246 190h1v5h-1zM247 195h1v22h-1zM247 188h1v7h-1zM245 188h5v1h-5zM248 195h1v21h-1zM249 194h1v22h-1zM250 195h1v22h-1zM250 217h1v6h-1zM248 222h5v1h-5zM251 195h1v21h-1zM251 216h1v6h-1zM249 221h5v1h-5zM252 195h1v22h-1zM253 195h1v21h-1zM251 195h5v1h-5zM254 195h1v21h-1zM254 194h1v1h-1zM252 194h5v1h-5zM254 216h1v4h-1zM252 219h5v1h-5zM255 195h1v22h-1zM255 194h1v1h-1zM256 195h1v22h-1zM254 216h5v1h-5zM257 195h1v22h-1zM257 217h1v1h-1zM255 217h5v1h-5zM258 195h1v22h-1zM258 192h1v3h-1zM256 192h5v1h-5zM258 217h1v3h-1zM256 219h5v1h-5zM259 195h1v21h-1zM259 216h1v5h-1zM260 195h1v22h-1zM261 196h1v20h-1zM261 192h1v4h-1zM259 192h5v1h-5zM262 196h1v20h-1zM262 191h1v5h-1zM260 191h5v1h-5zM263 194h1v22h-1zM261 194h5v1h-5zM264 195h1v21h-1zM264 192h1v3h-1zM262 192h5v1h-5zM264 216h1v2h-1zM262 217h5v1h-5zM265 195h1v21h-1zM265 216h1v5h-1zM263 220h5v1h-5zM266 195h1v21h-1zM266 193h1v2h-1zM264 193h5v1h-5zM267 194h1v22h-1zM267 191h1v3h-1zM265 191h5v1h-5zM268 195h1v22h-1zM268 217h1v5h-1zM266 221h5v1h-5zM269 195h1v22h-1zM270 195h1v22h-1zM270 194h1v1h-1zM268 194h5v1h-5zM271 195h1v21h-1zM271 192h1v3h-1zM271 216h1v6h-1zM269 221h5v1h-5zM272 195h1v21h-1zM272 191h1v4h-1zM270 191h5v1h-5zM273 195h1v22h-1zM273 191h1v4h-1zM273 217h1v4h-1zM271 220h5v1h-5zM274 195h1v22h-1zM274 217h1v5h-1zM272 221h5v1h-5zM275 195h1v22h-1zM275 194h1v1h-1zM273 194h5v1h-5zM275 217h1v4h-1zM276 195h1v21h-1zM276 216h1v6h-1zM274 221h5v1h-5zM277 195h1v22h-1zM277 191h1v4h-1zM275 191h5v1h-5zM277 217h1v5h-1zM275 221h5v1h-5zM278 194h1v22h-1zM279 195h1v21h-1zM279 191h1v4h-1zM277 191h5v1h-5zM280 195h1v22h-1zM280 194h1v1h-1zM278 194h5v1h-5zM280 217h1v2h-1zM278 218h5v1h-5zM281 195h1v22h-1zM282 195h1v22h-1zM280 195h5v1h-5zM283 195h1v21h-1zM284 195h1v21h-1zM284 216h1v4h-1zM282 219h5v1h-5zM285 194h1v23h-1zM285 193h1v1h-1zM283 193h5v1h-5zM286 194h1v22h-1zM286 190h1v4h-1zM284 190h5v1h-5zM287 195h1v22h-1zM288 194h1v22h-1zM288 191h1v3h-1zM286 191h5v1h-5zM286 215h5v1h-5zM289 196h1v21h-1zM290 195h1v22h-1zM291 195h1v22h-1zM291 217h1v6h-1zM289 222h5v1h-5zM292 194h1v23h-1zM292 189h1v5h-1zM290 189h5v1h-5zM293 195h1v22h-1zM294 195h1v21h-1zM295 193h1v25h-1zM296 189h1v31h-1zM296 220h1v3h-1zM294 222h5v1h-5zM297 188h1v32h-1zM298 187h1v34h-1zM298 184h1v3h-1zM296 184h5v1h-5zM299 188h1v33h-1zM300 188h1v32h-1zM300 220h1v4h-1zM298 223h5v1h-5zM301 188h1v33h-1zM301 186h1v2h-1zM299 186h5v1h-5zM301 221h1v3h-1zM299 223h5v1h-5zM302 188h1v32h-1zM303 187h1v33h-1zM303 183h1v4h-1zM301 183h5v1h-5zM303 220h1v5h-1zM301 224h5v1h-5zM304 187h1v33h-1zM305 188h1v32h-1zM305 220h1v4h-1zM306 187h1v33h-1zM306 220h1v1h-1zM307 189h1v30h-1zM307 219h1v3h-1zM305 221h5v1h-5zM308 190h1v28h-1zM308 189h1v1h-1zM306 189h5v1h-5zM309 193h1v25h-1zM309 189h1v4h-1zM307 189h5v1h-5zM310 193h1v23h-1zM311 193h1v24h-1zM311 217h1v1h-1zM309 217h5v1h-5zM312 194h1v23h-1zM312 186h1v8h-1zM313 194h1v24h-1zM313 186h1v8h-1zM311 186h5v1h-5zM314 193h1v24h-1zM315 194h1v22h-1zM315 189h1v5h-1zM313 189h5v1h-5zM316 194h1v24h-1zM316 188h1v6h-1zM316 218h1v2h-1zM314 219h5v1h-5zM317 194h1v23h-1zM317 186h1v8h-1zM315 186h5v1h-5zM318 194h1v23h-1zM318 217h1v1h-1zM319 194h1v22h-1zM320 190h1v27h-1zM320 217h1v2h-1zM318 218h5v1h-5zM321 187h1v31h-1zM322 187h1v30h-1zM323 188h1v29h-1zM323 186h1v2h-1zM321 186h5v1h-5zM323 217h1v4h-1zM321 220h5v1h-5zM324 187h1v30h-1zM324 183h1v4h-1zM322 183h5v1h-5zM325 186h1v31h-1zM325 183h1v3h-1zM323 183h5v1h-5zM326 186h1v31h-1zM327 187h1v31h-1zM328 186h1v32h-1zM326 186h5v1h-5zM329 187h1v30h-1zM330 189h1v27h-1zM330 186h1v3h-1zM328 186h5v1h-5zM330 216h1v3h-1zM328 218h5v1h-5zM331 195h1v21h-1zM332 195h1v19h-1zM330 195h5v1h-5zM333 195h1v20h-1zM333 192h1v3h-1zM331 192h5v1h-5zM334 195h1v21h-1zM335 195h1v19h-1zM336 195h1v20h-1zM336 215h1v5h-1zM334 219h5v1h-5zM337 196h1v20h-1zM337 216h1v1h-1zM335 216h5v1h-5zM338 195h1v20h-1zM338 215h1v5h-1zM336 219h5v1h-5zM339 196h1v19h-1zM339 215h1v2h-1zM337 216h5v1h-5zM340 195h1v19h-1zM341 196h1v17h-1zM342 196h1v17h-1zM342 194h1v2h-1zM340 194h5v1h-5zM342 213h1v3h-1zM343 195h1v19h-1zM343 194h1v1h-1zM341 194h5v1h-5zM343 214h1v1h-1zM341 214h5v1h-5zM344 195h1v18h-1zM344 213h1v1h-1zM342 213h5v1h-5zM345 195h1v18h-1zM346 195h1v19h-1zM346 214h1v2h-1zM344 215h5v1h-5zM347 196h1v17h-1zM347 195h1v1h-1zM345 195h5v1h-5zM347 213h1v1h-1zM348 195h1v18h-1zM348 213h1v2h-1zM346 214h5v1h-5zM349 195h1v19h-1zM350 196h1v18h-1zM350 194h1v2h-1zM348 194h5v1h-5zM351 196h1v17h-1zM352 195h1v18h-1zM352 213h1v1h-1zM350 213h5v1h-5zM353 195h1v18h-1zM353 213h1v4h-1zM351 216h5v1h-5zM354 195h1v18h-1zM354 193h1v2h-1zM352 193h5v1h-5zM355 196h1v18h-1zM353 213h5v1h-5zM356 195h1v19h-1zM356 192h1v3h-1zM354 192h5v1h-5zM357 195h1v18h-1zM357 193h1v2h-1zM355 193h5v1h-5zM358 195h1v18h-1zM358 193h1v2h-1zM356 193h5v1h-5zM359 195h1v18h-1zM359 213h1v5h-1zM357 217h5v1h-5zM360 196h1v17h-1zM361 195h1v19h-1zM361 214h1v2h-1zM359 215h5v1h-5zM362 195h1v19h-1zM362 193h1v2h-1zM360 193h5v1h-5zM363 195h1v18h-1zM363 213h1v3h-1zM361 215h5v1h-5zM364 196h1v18h-1zM365 195h1v19h-1zM366 195h1v18h-1zM366 213h1v4h-1zM364 216h5v1h-5zM367 195h1v19h-1zM367 214h1v2h-1zM365 215h5v1h-5zM368 195h1v18h-1zM366 212h5v1h-5zM369 195h1v18h-1zM367 212h5v1h-5zM370 195h1v19h-1zM371 196h1v18h-1zM369 213h5v1h-5zM372 195h1v19h-1zM372 193h1v2h-1zM373 195h1v18h-1zM373 193h1v2h-1zM371 193h5v1h-5zM371 212h5v1h-5zM374 195h1v19h-1zM375 195h1v18h-1zM376 195h1v18h-1zM377 195h1v18h-1zM377 213h1v3h-1zM375 215h5v1h-5zM378 195h1v18h-1zM378 191h1v4h-1zM376 191h5v1h-5zM379 196h1v17h-1zM379 195h1v1h-1zM377 195h5v1h-5zM379 213h1v3h-1zM377 215h5v1h-5zM380 195h1v18h-1zM380 213h1v2h-1zM378 214h5v1h-5zM381 196h1v17h-1zM381 195h1v1h-1zM379 195h5v1h-5zM382 195h1v19h-1zM382 214h1v5h-1zM380 218h5v1h-5zM383 196h1v17h-1zM383 213h1v2h-1zM384 195h1v19h-1zM385 195h1v18h-1zM386 195h1v18h-1zM387 195h1v18h-1zM387 213h1v1h-1zM385 213h5v1h-5zM388 196h1v18h-1zM388 194h1v2h-1zM386 194h5v1h-5zM389 195h1v19h-1zM389 193h1v2h-1zM390 195h1v19h-1zM390 193h1v2h-1zM388 193h5v1h-5zM391 196h1v18h-1zM389 196h5v1h-5zM392 195h1v18h-1zM393 196h1v17h-1zM393 213h1v2h-1zM391 214h5v1h-5zM394 195h1v19h-1zM394 194h1v1h-1zM395 195h1v18h-1zM396 195h1v19h-1zM397 195h1v19h-1zM398 195h1v19h-1zM398 214h1v4h-1zM399 195h1v19h-1zM399 190h1v5h-1zM397 190h5v1h-5zM400 196h1v18h-1zM400 191h1v5h-1zM398 191h5v1h-5zM401 195h1v20h-1zM402 195h1v21h-1zM402 216h1v4h-1zM400 219h5v1h-5zM403 195h1v21h-1zM403 216h1v3h-1zM401 218h5v1h-5zM404 194h1v24h-1zM404 192h1v2h-1zM404 218h1v3h-1zM402 220h5v1h-5zM405 194h1v24h-1zM405 218h1v5h-1zM406 194h1v24h-1zM406 218h1v4h-1zM404 221h5v1h-5zM407 194h1v24h-1zM405 217h5v1h-5zM408 193h1v24h-1zM408 217h1v2h-1zM406 218h5v1h-5zM409 194h1v24h-1zM409 191h1v3h-1zM407 191h5v1h-5zM407 217h5v1h-5zM410 192h1v25h-1zM410 190h1v2h-1zM410 217h1v5h-1zM408 221h5v1h-5zM411 193h1v25h-1zM412 193h1v24h-1zM412 192h1v1h-1zM413 193h1v25h-1zM414 193h1v25h-1zM415 194h1v24h-1zM416 193h1v25h-1zM416 191h1v2h-1zM414 191h5v1h-5zM417 194h1v24h-1zM418 192h1v25h-1zM419 193h1v24h-1zM419 191h1v2h-1zM417 191h5v1h-5zM420 194h1v24h-1zM420 218h1v5h-1zM418 222h5v1h-5zM421 193h1v25h-1zM421 192h1v1h-1zM422 192h1v26h-1zM420 192h5v1h-5zM423 193h1v24h-1zM424 193h1v24h-1zM425 193h1v24h-1zM425 217h1v4h-1zM423 220h5v1h-5zM426 193h1v25h-1zM427 194h1v24h-1zM427 218h1v5h-1zM425 222h5v1h-5zM428 193h1v25h-1zM428 218h1v4h-1zM426 221h5v1h-5zM429 193h1v25h-1zM429 192h1v1h-1zM427 192h5v1h-5zM429 218h1v4h-1zM427 221h5v1h-5zM430 194h1v23h-1zM430 217h1v3h-1zM428 219h5v1h-5zM431 194h1v23h-1zM432 194h1v21h-1zM432 192h1v2h-1zM430 192h5v1h-5zM433 193h1v23h-1zM433 191h1v2h-1zM431 191h5v1h-5zM434 194h1v22h-1zM434 216h1v1h-1zM435 193h1v23h-1zM436 193h1v22h-1zM436 192h1v1h-1zM434 192h5v1h-5zM437 193h1v23h-1zM437 192h1v1h-1zM435 192h5v1h-5zM438 194h1v22h-1zM439 194h1v22h-1zM440 193h1v23h-1zM438 193h5v1h-5zM440 216h1v1h-1zM441 196h1v20h-1zM442 196h1v19h-1zM443 195h1v20h-1zM443 194h1v1h-1zM441 194h5v1h-5zM444 195h1v21h-1zM445 196h1v20h-1zM445 194h1v2h-1zM446 195h1v21h-1zM447 196h1v20h-1zM448 195h1v20h-1zM449 195h1v21h-1zM449 216h1v3h-1zM447 218h5v1h-5zM450 195h1v20h-1zM451 196h1v18h-1zM451 214h1v2h-1zM452 196h1v17h-1zM452 213h1v2h-1zM453 195h1v18h-1zM454 196h1v18h-1zM455 196h1v18h-1zM455 214h1v2h-1zM453 215h5v1h-5zM456 196h1v17h-1zM457 196h1v17h-1zM458 196h1v17h-1zM459 196h1v18h-1zM460 196h1v16h-1zM461 196h1v14h-1zM462 197h1v12h-1zM463 197h1v13h-1zM463 210h1v3h-1zM461 212h5v1h-5zM464 197h1v13h-1zM462 209h5v1h-5zM465 197h1v13h-1zM466 197h1v13h-1zM466 195h1v2h-1zM464 195h5v1h-5zM467 197h1v13h-1zM468 197h1v13h-1zM468 195h1v2h-1zM466 195h5v1h-5zM466 209h5v1h-5zM469 197h1v13h-1zM470 196h1v14h-1zM471 197h1v14h-1zM472 197h1v13h-1zM473 196h1v14h-1zM474 197h1v13h-1zM474 210h1v1h-1zM472 210h5v1h-5zM475 196h1v14h-1zM476 196h1v15h-1zM476 211h1v2h-1zM474 212h5v1h-5zM477 196h1v14h-1zM478 197h1v13h-1zM478 210h1v3h-1zM476 212h5v1h-5zM479 197h1v14h-1zM480 197h1v13h-1zM481 197h1v14h-1zM482 197h1v13h-1zM482 196h1v1h-1zM483 197h1v14h-1zM484 197h1v14h-1zM485 197h1v15h-1zM486 196h1v15h-1zM486 211h1v4h-1zM484 214h5v1h-5zM487 196h1v16h-1zM487 212h1v2h-1zM488 196h1v15h-1zM489 196h1v16h-1zM489 194h1v2h-1zM487 194h5v1h-5zM490 196h1v16h-1zM491 197h1v15h-1zM491 195h1v2h-1zM489 195h5v1h-5zM492 196h1v16h-1zM493 196h1v15h-1zM494 196h1v16h-1zM495 197h1v15h-1zM496 196h1v15h-1zM497 196h1v16h-1zM498 195h1v16h-1zM498 194h1v1h-1zM496 194h5v1h-5zM498 211h1v3h-1zM499 196h1v15h-1zM500 196h1v15h-1zM500 211h1v1h-1zM501 196h1v15h-1zM502 196h1v16h-1zM503 196h1v16h-1zM503 195h1v1h-1zM501 195h5v1h-5zM503 212h1v4h-1zM501 215h5v1h-5zM504 196h1v15h-1zM504 211h1v1h-1zM502 211h5v1h-5zM505 196h1v16h-1zM505 212h1v1h-1zM503 212h5v1h-5zM506 196h1v16h-1zM507 196h1v16h-1zM508 195h1v17h-1zM508 192h1v3h-1zM506 192h5v1h-5zM508 212h1v2h-1zM506 213h5v1h-5zM509 196h1v16h-1zM510 197h1v13h-1zM511 199h1v10h-1zM512 200h1v8h-1zM512 199h1v1h-1zM510 199h5v1h-5zM513 199h1v10h-1zM514 199h1v10h-1zM515 199h1v10h-1zM515 198h1v1h-1zM513 198h5v1h-5zM516 199h1v10h-1zM517 199h1v10h-1zM518 200h1v9h-1zM519 199h1v9h-1zM519 208h1v1h-1zM517 208h5v1h-5zM520 200h1v9h-1zM520 198h1v2h-1zM520 209h1v1h-1zM521 199h1v9h-1zM521 198h1v1h-1zM522 200h1v8h-1zM520 200h5v1h-5zM522 208h1v1h-1zM520 208h5v1h-5zM523 200h1v9h-1zM524 199h1v10h-1zM525 199h1v10h-1zM526 199h1v10h-1zM527 198h1v13h-1zM528 197h1v16h-1zM528 196h1v1h-1zM526 196h5v1h-5zM529 197h1v15h-1zM530 197h1v16h-1zM531 197h1v16h-1zM532 196h1v16h-1zM533 198h1v14h-1zM534 197h1v15h-1zM535 198h1v15h-1zM533 212h5v1h-5zM536 197h1v14h-1zM537 198h1v13h-1zM537 211h1v2h-1zM535 212h5v1h-5zM538 197h1v12h-1zM539 198h1v11h-1zM540 197h1v12h-1zM541 198h1v11h-1zM542 197h1v14h-1zM542 211h1v1h-1zM540 211h5v1h-5zM543 196h1v18h-1zM544 195h1v18h-1zM544 213h1v2h-1zM542 214h5v1h-5zM545 196h1v18h-1zM545 191h1v5h-1zM543 191h5v1h-5zM546 196h1v18h-1zM547 196h1v18h-1zM548 196h1v17h-1zM549 196h1v17h-1zM550 197h1v14h-1zM550 196h1v1h-1zM548 196h5v1h-5zM550 211h1v3h-1zM548 213h5v1h-5zM551 198h1v13h-1zM549 198h5v1h-5zM551 211h1v2h-1zM552 197h1v14h-1zM552 211h1v1h-1zM550 211h5v1h-5zM553 198h1v12h-1zM553 197h1v1h-1zM551 197h5v1h-5zM554 197h1v13h-1zM554 210h1v3h-1zM552 212h5v1h-5zM555 197h1v14h-1zM555 195h1v2h-1zM553 195h5v1h-5zM555 211h1v1h-1zM553 211h5v1h-5zM556 197h1v14h-1zM557 198h1v12h-1zM558 197h1v14h-1zM559 198h1v12h-1zM560 197h1v13h-1zM561 197h1v13h-1zM562 197h1v14h-1zM563 197h1v14h-1zM564 198h1v12h-1zM564 196h1v2h-1zM562 196h5v1h-5zM565 197h1v13h-1zM565 210h1v2h-1zM563 211h5v1h-5zM566 198h1v12h-1zM567 200h1v8h-1zM567 199h1v1h-1zM565 199h5v1h-5zM568 201h1v6h-1zM566 206h5v1h-5zM569 201h1v6h-1zM567 201h5v1h-5zM570 201h1v6h-1zM570 199h1v2h-1zM568 199h5v1h-5zM571 201h1v6h-1zM571 200h1v1h-1zM569 200h5v1h-5zM571 207h1v1h-1zM569 207h5v1h-5zM572 201h1v6h-1zM573 201h1v6h-1zM574 202h1v6h-1zM575 202h1v5h-1zM576 202h1v5h-1zM577 201h1v6h-1zM577 200h1v1h-1zM575 200h5v1h-5zM578 201h1v5h-1zM579 202h1v5h-1zM580 202h1v5h-1zM581 201h1v6h-1zM582 201h1v7h-1zM583 202h1v4h-1zM584 202h1v5h-1zM585 201h1v6h-1zM586 201h1v7h-1zM587 201h1v6h-1zM587 207h1v2h-1zM585 208h5v1h-5zM588 201h1v6h-1zM589 202h1v6h-1zM590 202h1v5h-1zM588 206h5v1h-5zM591 201h1v6h-1z"/><path stroke="#0080ff" fill="none" shape-rendering="crispEdges" d="M315 213L322 220M322 213L315 220"/><path fill="#0080ff" d="M315 216h7v1h-7zM318 213h1v7h-1z"/>
<path fill="#0080ff" d="M129 178h1v45h-1zM127 178h5v1h-5zM127 222h5v1h-5zM124 195h1v38h-1zM122 195h5v1h-5zM122 232h5v1h-5zM149 167h1v56h-1zM147 167h5v1h-5zM147 222h5v1h-5zM153 154h1v69h-1zM151 154h5v1h-5zM151 222h5v1h-5zM152 205h1v42h-1zM150 205h5v1h-5zM150 246h5v1h-5zM160 195h1v34h-1zM158 195h5v1h-5zM158 228h5v1h-5zM181 172h1v51h-1zM179 172h5v1h-5zM179 222h5v1h-5zM182 205h1v59h-1zM180 205h5v1h-5zM180 263h5v1h-5zM221 183h1v46h-1zM219 183h5v1h-5zM219 228h5v1h-5zM231 185h1v48h-1zM229 185h5v1h-5zM229 232h5v1h-5zM171 200h1v26h-1zM169 200h5v1h-5zM169 225h5v1h-5zM246 200h1v26h-1zM244 200h5v1h-5zM244 225h5v1h-5zM203 186h1v30h-1zM201 186h5v1h-5zM201 215h5v1h-5zM291 177h1v62h-1zM289 177h5v1h-5zM289 238h5v1h-5zM301 175h1v64h-1zM299 175h5v1h-5zM299 238h5v1h-5zM304 159h1v72h-1zM302 159h5v1h-5zM302 230h5v1h-5zM325 175h1v62h-1zM323 175h5v1h-5zM323 236h5v1h-5zM327 190h1v42h-1zM325 190h5v1h-5zM325 231h5v1h-5zM332 185h1v21h-1zM330 185h5v1h-5zM330 205h5v1h-5zM384 200h1v24h-1zM382 200h5v1h-5zM382 223h5v1h-5zM417 189h1v35h-1zM415 189h5v1h-5zM415 223h5v1h-5zM116 188h1v38h-1zM114 188h5v1h-5zM114 225h5v1h-5zM258 188h1v34h-1zM256 188h5v1h-5zM256 221h5v1h-5zM275 188h1v35h-1zM273 188h5v1h-5zM273 222h5v1h-5zM350 190h1v27h-1zM348 190h5v1h-5zM348 216h5v1h-5z"/>
<path stroke="#0080ff" fill="none" shape-rendering="crispEdges" d="M101 205L108 212M108 205L101 212"/><path fill="#0080ff" d="M101 208h7v1h-7zM104 205h1v7h-1z"/>
<path stroke="#0080ff" fill="none" shape-rendering="crispEdges" d="M150 183L157 190M157 183L150 190"/><path fill="#0080ff" d="M150 186h7v1h-7zM153 183h1v7h-1z"/>
<path stroke="#0080ff" fill="none" shape-rendering="crispEdges" d="M149 224L156 231M156 224L149 231"/><path fill="#0080ff" d="M149 227h7v1h-7zM152 224h1v7h-1z"/>
<path stroke="#0080ff" fill="none" shape-rendering="crispEdges" d="M179 221L186 228M186 221L179 228"/><path fill="#0080ff" d="M179 224h7v1h-7zM182 221h1v7h-1z"/>
<path stroke="#0080ff" fill="none" shape-rendering="crispEdges" d="M299 185L306 192M306 185L299 192"/><path fill="#0080ff" d="M299 188h7v1h-7zM302 185h1v7h-1z"/>
<path stroke="#0080ff" fill="none" shape-rendering="crispEdges" d="M323 179L330 186M330 179L323 186"/><path fill="#0080ff" d="M323 182h7v1h-7zM326 179h1v7h-1z"/>
<path stroke="#0080ff" fill="none" shape-rendering="crispEdges" d="M121 223L128 230M128 223L121 230"/><path fill="#0080ff" d="M121 226h7v1h-7zM124 223h1v7h-1z"/></g>
<path fill="#000" d="M104 19h512v1h-512zM104 419h512v1h-512zM104 19h1v401h-1zM615 19h1v401h-1zM104 415h1v4h-1zM104 20h1v4h-1zM161 415h1v4h-1zM161 20h1v4h-1zM218 415h1v4h-1zM218 20h1v4h-1zM274 415h1v4h-1zM274 20h1v4h-1zM331 415h1v4h-1zM331 20h1v4h-1zM388 415h1v4h-1zM388 20h1v4h-1zM445 415h1v4h-1zM445 20h1v4h-1zM501 415h1v4h-1zM501 20h1v4h-1zM558 415h1v4h-1zM558 20h1v4h-1zM615 415h1v4h-1zM615 20h1v4h-1zM105 19h4v1h-4zM611 19h4v1h-4zM105 99h4v1h-4zM611 99h4v1h-4zM105 179h4v1h-4zM611 179h4v1h-4zM105 259h4v1h-4zM611 259h4v1h-4zM105 339h4v1h-4zM611 339h4v1h-4zM105 419h4v1h-4zM611 419h4v1h-4z"/>
<g class="t tx" text-anchor="end">
<text x="91" y="25">0.5</text><text x="91" y="105">0</text><text x="91" y="185">-0.5</text><text x="91" y="265">-1</text><text x="91" y="345">-1.5</text><text x="91" y="425">-2</text>
</g>
<g class="t tx" text-anchor="middle">
<text x="104.5" y="443.5">0</text><text x="161.5" y="443.5">100</text><text x="218.5" y="443.5">200</text><text x="274.5" y="443.5">300</text><text x="331.5" y="443.5">400</text><text x="388.5" y="443.5">500</text><text x="445.5" y="443.5">600</text><text x="501.5" y="443.5">700</text><text x="558.5" y="443.5">800</text><text x="615.5" y="443.5">900</text>
<text x="357.5" y="471">time[s]</text>
<text transform="translate(38 221) rotate(-90)">acceleration [g]</text>
</g>
<g class="t tx" text-anchor="end">
<text x="538" y="37.5">X</text><text x="538" y="56.5">Y</text><text x="538" y="75.5" style="stroke:none">Z</text>
</g>
<path fill="#ff0000" d="M551 32h45v1h-45zM551 30h1v5h-1zM595 30h1v5h-1zM573 29h1v7h-1z"/>
<path fill="#00c000" d="M551 51h45v1h-45zM551 49h1v5h-1zM595 49h1v5h-1z"/><path stroke="#00c000" fill="none" shape-rendering="crispEdges" d="M570 48L577 55M577 48L570 55"/>
<path fill="#0080ff" d="M551 70h45v1h-45zM551 68h1v5h-1zM595 68h1v5h-1z"/><path stroke="#0080ff" fill="none" shape-rendering="crispEdges" d="M570 67L577 74M577 67L570 74"/><path fill="#0080ff" d="M570 70h7v1h-7zM573 67h1v7h-1z"/>
</svg>
</body></html>
